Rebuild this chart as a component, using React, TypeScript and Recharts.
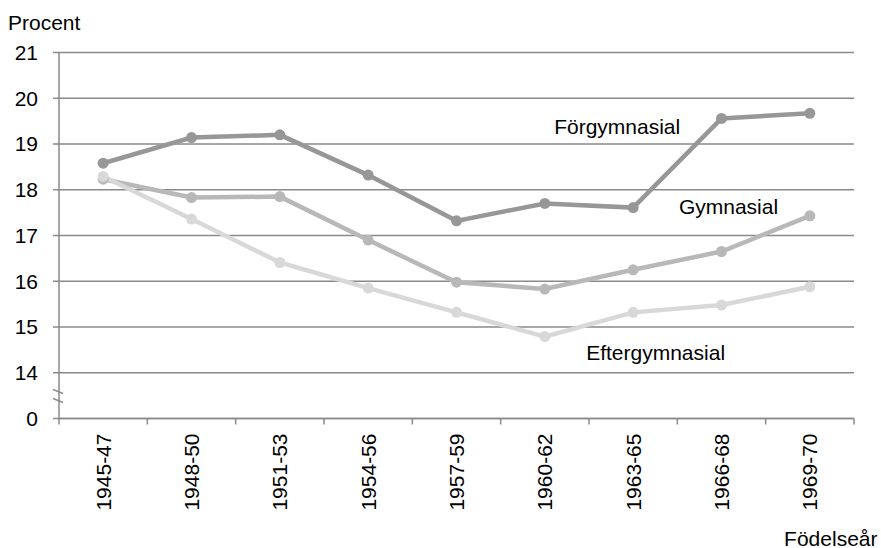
import React from 'react';
import { LineChart, Line, XAxis, YAxis, CartesianGrid, ReferenceDot } from 'recharts';

const categories = ['1945-47', '1948-50', '1951-53', '1954-56', '1957-59', '1960-62', '1963-65', '1966-68', '1969-70'];
const forgymnasial = [18.58, 19.14, 19.2, 18.32, 17.32, 17.7, 17.61, 19.56, 19.67];
const gymnasial = [18.23, 17.83, 17.85, 16.9, 15.98, 15.83, 16.25, 16.65, 17.43];
const eftergymnasial = [18.29, 17.36, 16.41, 15.85, 15.32, 14.79, 15.32, 15.48, 15.88];
const yTicks = [13, 14, 15, 16, 17, 18, 19, 20, 21];
const yTickLabels: Record<number, string> = { 13: '0', 14: '14', 15: '15', 16: '16', 17: '17', 18: '18', 19: '19', 20: '20', 21: '21' };
const seriesNames = ['Förgymnasial', 'Gymnasial', 'Eftergymnasial'];
const annotations = [
  { text: 'Förgymnasial', x: '1963-65', y: 19.22, dx: -16, anchor: 'middle' },
  { text: 'Gymnasial', x: '1966-68', y: 17.47, dx: 7, anchor: 'middle' },
  { text: 'Eftergymnasial', x: '1963-65', y: 14.28, dx: -47, anchor: 'start' },
];

const data = categories.map((c, i) => ({
  cat: c,
  forg: forgymnasial[i],
  gym: gymnasial[i],
  efter: eftergymnasial[i],
}));

const W = 881;
const H = 548;
const M = { top: 52.5, right: 27, bottom: 0, left: 0 };
const Y_AXIS_W = 59;
const X_AXIS_H = 129.5;
const PLOT_W = W - M.left - M.right - Y_AXIS_W;
const BAND = PLOT_W / categories.length;
const FONT = 'Arial, "Liberation Sans", sans-serif';
const FS = 21;
const GRID = '#8a8a8a';
const COLORS = ['#979797', '#b8b8b8', '#d8d8d8'];

const XTick = (props: any) => {
  const { x, y, payload, index } = props;
  const left = x - BAND / 2;
  const right = x + BAND / 2;
  return (
    <g>
      <line x1={left} y1={y} x2={left} y2={y + 6} stroke={GRID} strokeWidth={1.5} />
      {index === categories.length - 1 && (
        <line x1={right} y1={y} x2={right} y2={y + 6} stroke={GRID} strokeWidth={1.5} />
      )}
      <text
        x={x}
        y={y + 15}
        transform={`rotate(-90, ${x}, ${y + 15})`}
        textAnchor="end"
        dy="0.35em"
        fontSize={FS}
        fontFamily={FONT}
        fill="#000"
      >
        {payload.value}
      </text>
    </g>
  );
};

const YTick = (props: any) => {
  const { x, y, payload } = props;
  const ax = x + 21;
  return (
    <g>
      <text x={x} y={y} dy="0.35em" textAnchor="end" fontSize={FS} fontFamily={FONT} fill="#000">
        {yTickLabels[payload.value]}
      </text>
      {payload.value === 13 && (
        <g>
          <line x1={ax - 6} y1={y - 29} x2={ax + 4} y2={y - 25} stroke={GRID} strokeWidth={1.5} />
          <line x1={ax - 6} y1={y - 20} x2={ax + 4} y2={y - 16} stroke={GRID} strokeWidth={1.5} />
        </g>
      )}
    </g>
  );
};

export default function App() {
  const keys = ['forg', 'gym', 'efter'];
  return (
    <div style={{ position: 'absolute', left: 0, top: 0, width: W, height: H, background: '#fff' }}>
      <LineChart width={W} height={H} data={data} margin={M}>
        <CartesianGrid vertical={false} stroke={GRID} strokeWidth={1.5} />
        <XAxis
          dataKey="cat"
          type="category"
          scale="band"
          interval={0}
          height={X_AXIS_H}
          tickLine={false}
          tickSize={0}
          tickMargin={0}
          axisLine={{ stroke: GRID, strokeWidth: 1.5 }}
          tick={<XTick />}
        />
        <YAxis
          type="number"
          domain={[13, 21]}
          ticks={yTicks}
          interval={0}
          width={Y_AXIS_W}
          tickSize={6}
          tickMargin={15}
          tickLine={{ stroke: GRID, strokeWidth: 1.5 }}
          axisLine={{ stroke: GRID, strokeWidth: 1.5 }}
          tick={<YTick />}
        />
        {keys.map((k, i) => (
          <Line
            key={k}
            name={seriesNames[i]}
            dataKey={k}
            type="linear"
            stroke={COLORS[i]}
            strokeWidth={4.5}
            dot={{ r: 5.5, fill: COLORS[i], stroke: COLORS[i], strokeWidth: 0 }}
            activeDot={false}
            isAnimationActive={false}
          />
        ))}
        {annotations.map((a) => (
          <ReferenceDot
            key={a.text}
            x={a.x}
            y={a.y}
            r={0}
            ifOverflow="visible"
            shape={(p: any) => (
              <text x={p.cx + a.dx} y={p.cy} textAnchor={a.anchor as any} fontSize={FS} fontFamily={FONT} fill="#000">
                {a.text}
              </text>
            )}
          />
        ))}
      </LineChart>
      <svg width={W} height={H} style={{ position: 'absolute', left: 0, top: 0, pointerEvents: 'none' }}>
        <text x={8} y={30} fontSize={FS} fontFamily={FONT} fill="#000">Procent</text>
        <text x={877.5} y={545.5} textAnchor="end" fontSize={FS} fontFamily={FONT} fill="#000">Födelseår</text>
      </svg>
    </div>
  );
}
